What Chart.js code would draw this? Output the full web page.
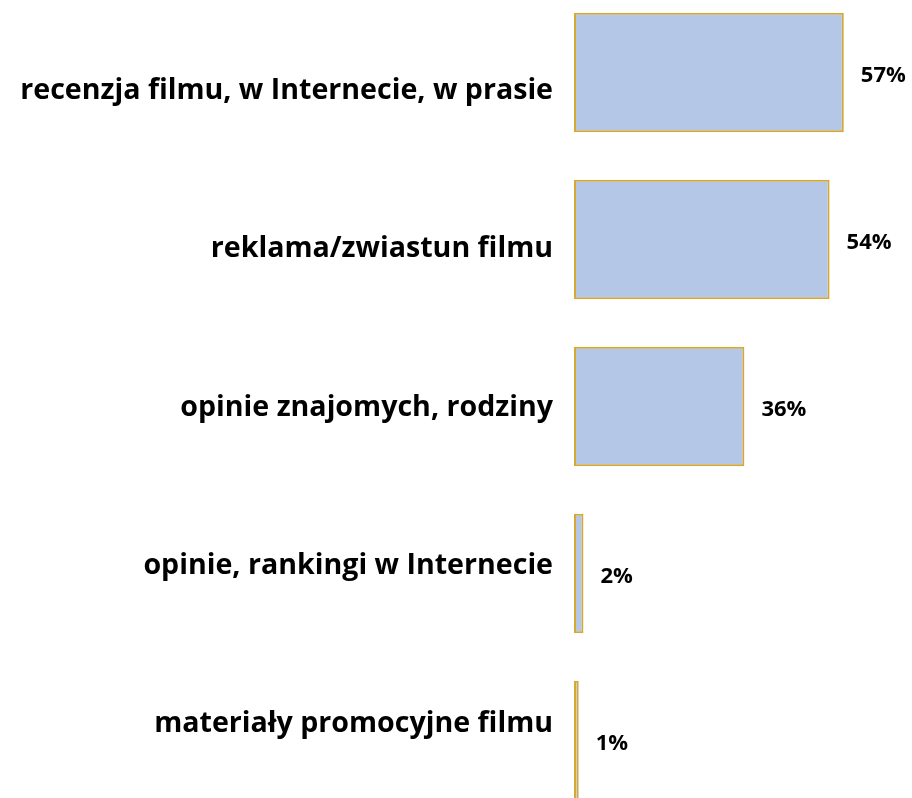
<!DOCTYPE html>
<html><head><meta charset="utf-8">
<script src="https://cdn.jsdelivr.net/npm/chart.js@4/dist/chart.umd.min.js"></script>
<style>
html,body{margin:0;padding:0;background:#fff;overflow:hidden;width:912px;height:798px;}
#wrap{position:absolute;left:0;top:-11px;width:912px;height:835px;}
</style></head><body>
<div id="wrap"><canvas id="c" width="912" height="835"></canvas></div>
<script>
const categories = [
  'recenzja filmu, w Internecie, w prasie',
  'reklama/zwiastun filmu',
  'opinie znajomych, rodziny',
  'opinie, rankingi w Internecie',
  'materiały promocyjne filmu'
];
const values = [57, 54, 36, 2, 1];
const valueLabels = values.map(v => v + '%');

const valueLabelPlugin = {
  id: 'valueLabels',
  afterDatasetsDraw(chart) {
    const ctx = chart.ctx;
    const meta = chart.getDatasetMeta(0);
    ctx.save();
    ctx.font = 'bold 22px "Open Sans"';
    ctx.fillStyle = '#000';
    ctx.textAlign = 'left';
    ctx.textBaseline = 'middle';
    meta.data.forEach((bar, i) => {
      ctx.fillText(valueLabels[i], bar.x + 17, bar.y + 3);
    });
    ctx.restore();
  }
};

new Chart(document.getElementById('c'), {
  type: 'bar',
  data: {
    labels: categories,
    datasets: [{
      data: values,
      backgroundColor: '#b4c7e7',
      borderColor: '#d5a934',
      borderWidth: 2,
      borderSkipped: false,
      categoryPercentage: 1,
      barPercentage: 0.716
    }]
  },
  options: {
    indexAxis: 'y',
    responsive: false,
    animation: false,
    devicePixelRatio: 1,
    layout: { padding: { left: 0, right: 54, top: 0, bottom: 0 } },
    plugins: { legend: { display: false }, tooltip: { enabled: false } },
    scales: {
      x: { type: 'linear', min: 0, max: 60, display: false },
      y: { type: 'category', display: false },
      y2: {
        type: 'linear',
        position: 'left',
        reverse: true,
        offset: false,
        min: -0.645,
        max: 4.632,
        grid: { display: false, drawTicks: false, offset: false },
        border: { display: false },
        afterBuildTicks: s => { s.ticks = categories.map((c, i) => ({ value: i })); },
        afterFit: s => { s.width = 574; s.paddingTop = 0; s.paddingBottom = 0; },
        ticks: {
          padding: 21,
          color: '#000',
          font: { family: '"Open Sans"', size: 28.6, weight: 'bold' },
          callback: v => categories[v]
        }
      }
    }
  },
  plugins: [valueLabelPlugin]
});
</script>
</body></html>
